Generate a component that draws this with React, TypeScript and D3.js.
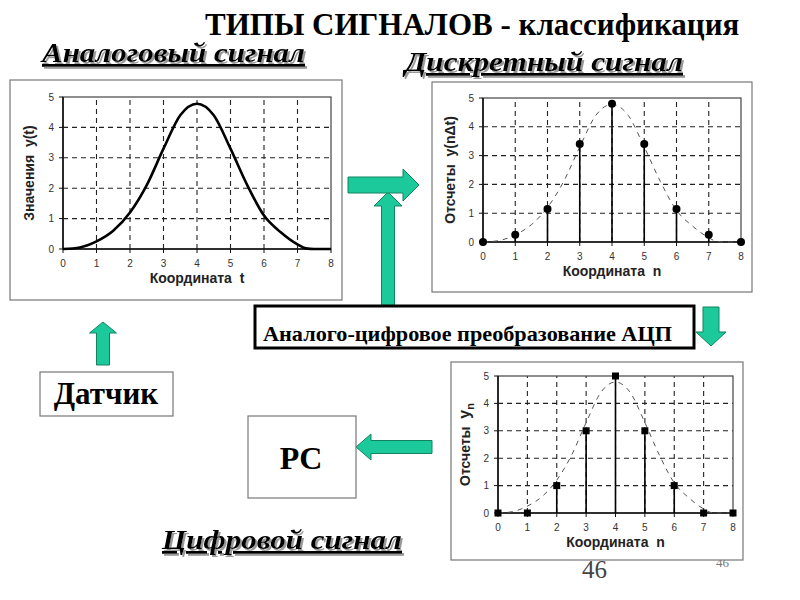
import * as d3 from 'd3';

// axis ticks shared by all three plots
const ticksX = [0, 1, 2, 3, 4, 5, 6, 7, 8];
const ticksY = [0, 1, 2, 3, 4, 5];

// continuous (analog) signal y(t)
const analogT = [0, 0.5, 1, 1.5, 2, 2.5, 3, 3.5, 4, 4.5, 5, 5.5, 6, 6.5, 7, 7.25, 7.5, 8];
const analogY = [0, 0.05, 0.25, 0.6, 1.2, 2.1, 3.3, 4.4, 4.78, 4.4, 3.3, 2.1, 1.1, 0.55, 0.15, 0.02, 0, 0];

// samples
const sampleN = [0, 1, 2, 3, 4, 5, 6, 7, 8];
const discreteY = [0, 0.25, 1.15, 3.4, 4.8, 3.4, 1.15, 0.25, 0];
const digitalY = [0, 0, 1, 3, 5, 3, 1, 0, 0];

const analogPts: [number, number][] = analogT.map((t, i) => [t, analogY[i]]);

const SERIF = '"Liberation Serif", "Times New Roman", serif';
const SANS = '"Liberation Sans", Arial, sans-serif';
const GREEN = '#1cc99b';
const GREEN_DARK = '#13835f';

type Box = { x0: number; x1: number; y0: number; y1: number };
type Scale = d3.ScaleLinear<number, number>;

function Panel({
  frame,
  plot,
  xTitle,
  yTitle,
  yTitleX,
  children,
}: {
  frame: Box;
  plot: Box;
  xTitle: React.ReactNode;
  yTitle: React.ReactNode;
  yTitleX: number;
  children: (x: Scale, y: Scale) => React.ReactNode;
}) {
  const x = d3.scaleLinear().domain([0, 8]).range([plot.x0, plot.x1]);
  const y = d3.scaleLinear().domain([0, 5]).range([plot.y1, plot.y0]);
  const yMid = (plot.y0 + plot.y1) / 2;
  return (
    <g>
      <rect
        x={frame.x0}
        y={frame.y0}
        width={frame.x1 - frame.x0}
        height={frame.y1 - frame.y0}
        fill="#fff"
        stroke="#777"
        strokeWidth={1.2}
      />
      {/* grid */}
      {ticksX.slice(1, -1).map((t) => (
        <line key={'gx' + t} x1={x(t)} x2={x(t)} y1={y(0)} y2={y(5)} stroke="#222" strokeWidth={1.1} strokeDasharray="5,4" />
      ))}
      {ticksY.slice(1, -1).map((t) => (
        <line key={'gy' + t} x1={x(0)} x2={x(8)} y1={y(t)} y2={y(t)} stroke="#222" strokeWidth={1.1} strokeDasharray="5,4" />
      ))}
      <rect x={plot.x0} y={plot.y0} width={plot.x1 - plot.x0} height={plot.y1 - plot.y0} fill="none" stroke="#444" strokeWidth={1.2} />
      <line x1={plot.x0} x2={plot.x1} y1={plot.y1} y2={plot.y1} stroke="#111" strokeWidth={1.6} />
      <line x1={plot.x0} x2={plot.x0} y1={plot.y0} y2={plot.y1} stroke="#111" strokeWidth={1.6} />
      {/* ticks */}
      {ticksY.map((t) => (
        <g key={'ty' + t}>
          <line x1={x(0) - 4} x2={x(0)} y1={y(t)} y2={y(t)} stroke="#111" />
          <text x={x(0) - 9} y={y(t) + 3.5} fontSize={10} fontFamily={SANS} fill="#333" textAnchor="end">
            {t}
          </text>
        </g>
      ))}
      {ticksX.map((t) => (
        <g key={'tx' + t}>
          <line x1={x(t)} x2={x(t)} y1={y(0)} y2={y(0) + 4} stroke="#111" />
          <text x={x(t)} y={y(0) + 18} fontSize={10} fontFamily={SANS} fill="#333" textAnchor="middle">
            {t}
          </text>
        </g>
      ))}
      <text
        x={(plot.x0 + plot.x1) / 2}
        y={y(0) + 34}
        fontSize={14}
        fontWeight="bold"
        fontFamily={SANS}
        fill="#222"
        textAnchor="middle"
        style={{ whiteSpace: 'pre' }}
      >
        {xTitle}
      </text>
      <text
        transform={`translate(${yTitleX},${yMid}) rotate(-90)`}
        fontSize={14}
        fontWeight="bold"
        fontFamily={SANS}
        fill="#222"
        textAnchor="middle"
        style={{ whiteSpace: 'pre' }}
      >
        {yTitle}
      </text>
      {children(x, y)}
    </g>
  );
}

function Heading({ x, y, width, text }: { x: number; y: number; width: number; text: string }) {
  return (
    <text
      x={x}
      y={y}
      fill="#000"
      fontSize={28}
      fontFamily={SERIF}
      fontWeight="bold"
      fontStyle="italic"
      textDecoration="underline"
      textLength={width}
      lengthAdjust="spacingAndGlyphs"
      filter="url(#shadow)"
    >
      {text}
    </text>
  );
}

// block arrow described by shaft half-width, head half-width, head length
function Arrow({ from, to, shaft, head, headLen }: { from: [number, number]; to: [number, number]; shaft: number; head: number; headLen: number }) {
  const dx = to[0] - from[0];
  const dy = to[1] - from[1];
  const len = Math.hypot(dx, dy);
  const ang = (Math.atan2(dy, dx) * 180) / Math.PI;
  const b = len - headLen;
  const d = `M0,${-shaft} L${b},${-shaft} L${b},${-head} L${len},0 L${b},${head} L${b},${shaft} L0,${shaft} Z`;
  return (
    <path
      d={d}
      transform={`translate(${from[0]},${from[1]}) rotate(${ang})`}
      fill={GREEN}
      stroke={GREEN_DARK}
      strokeWidth={1}
      strokeLinejoin="miter"
    />
  );
}

export default function App() {
  const curveFor = (x: Scale, y: Scale) =>
    d3
      .line<[number, number]>()
      .x((d) => x(d[0]))
      .y((d) => y(d[1]))
      .curve(d3.curveMonotoneX)(analogPts) ?? '';

  return (
    <svg width={800} height={600} style={{ position: 'absolute', left: 0, top: 0, background: '#fff' }}>
      <defs>
        <filter id="shadow" x="-5%" y="-20%" width="115%" height="150%">
          <feDropShadow dx={2} dy={2} stdDeviation={0.4} floodColor="#999" floodOpacity={1} />
        </filter>
      </defs>
      <rect width={800} height={600} fill="#fff" />

      <text x={205} y={35} fontSize={31} fontWeight="bold" fontFamily={SERIF} fill="#000">
        ТИПЫ СИГНАЛОВ - классификация
      </text>

      <Heading x={42} y={62} width={263} text="Аналоговый сигнал" />
      <Heading x={405} y={71} width={278} text="Дискретный сигнал" />
      <Heading x={162} y={549} width={240} text="Цифровой сигнал" />

      {/* page number bits */}
      <text x={582} y={578} fontSize={25} fontFamily={SERIF} fill="#444">
        46
      </text>
      <text x={716} y={567} fontSize={13} fontFamily={SERIF} fill="#777">
        46
      </text>

      {/* analog */}
      <Panel
        frame={{ x0: 10, x1: 342, y0: 80, y1: 300 }}
        plot={{ x0: 63, x1: 331, y0: 97, y1: 249 }}
        xTitle="Координата  t"
        yTitle="Значения  y(t)"
        yTitleX={34}
      >
        {(x, y) => <path d={curveFor(x, y)} fill="none" stroke="#000" strokeWidth={2.6} />}
      </Panel>

      {/* discrete */}
      <Panel
        frame={{ x0: 432, x1: 752, y0: 82, y1: 292 }}
        plot={{ x0: 483, x1: 741, y0: 98, y1: 242 }}
        xTitle="Координата  n"
        yTitle="Отсчеты  y(nΔt)"
        yTitleX={455}
      >
        {(x, y) => (
          <g>
            <path d={curveFor(x, y)} fill="none" stroke="#555" strokeWidth={1} strokeDasharray="5,5" />
            {sampleN.map((n, i) => (
              <g key={n}>
                <line x1={x(n)} x2={x(n)} y1={y(0)} y2={y(discreteY[i])} stroke="#000" strokeWidth={1.6} />
                <circle cx={x(n)} cy={y(discreteY[i])} r={4} fill="#000" />
              </g>
            ))}
          </g>
        )}
      </Panel>

      {/* digital */}
      <Panel
        frame={{ x0: 451, x1: 743, y0: 362, y1: 560 }}
        plot={{ x0: 498, x1: 733, y0: 376, y1: 513 }}
        xTitle="Координата  n"
        yTitle={
          <>
            Отсчеты  <tspan fontSize={16}>y</tspan>
            <tspan fontSize={11} dy={4}>n</tspan>
          </>
        }
        yTitleX={470}
      >
        {(x, y) => (
          <g>
            <path d={curveFor(x, y)} fill="none" stroke="#555" strokeWidth={1} strokeDasharray="5,5" />
            {sampleN.map((n, i) => (
              <g key={n}>
                <line x1={x(n)} x2={x(n)} y1={y(0)} y2={y(digitalY[i])} stroke="#000" strokeWidth={1.6} />
                <rect x={x(n) - 3.5} y={y(digitalY[i]) - 3.5} width={7} height={7} fill="#000" />
              </g>
            ))}
          </g>
        )}
      </Panel>

      {/* arrows */}
      <Arrow from={[388, 306]} to={[388, 192]} shaft={6.5} head={14} headLen={14} />
      <Arrow from={[348, 185]} to={[419, 185]} shaft={8} head={16} headLen={16} />
      <Arrow from={[711, 307]} to={[711, 346]} shaft={8} head={15} headLen={14} />
      <Arrow from={[103, 365]} to={[103, 322]} shaft={6.5} head={13.5} headLen={11} />
      <Arrow from={[432, 447]} to={[356, 447]} shaft={6.5} head={13} headLen={15} />

      {/* ADC box */}
      <rect x={255} y={306} width={439} height={42} fill="#fff" stroke="#000" strokeWidth={3} />
      <text x={263} y={341} fontSize={21} fontWeight="bold" fontFamily={SERIF} fill="#000" textLength={409} lengthAdjust="spacingAndGlyphs">
        Аналого-цифровое преобразование АЦП
      </text>

      {/* sensor */}
      <rect x={40} y={372} width={133} height={44} fill="#fff" stroke="#777" strokeWidth={1.2} />
      <text x={106} y={404} fontSize={31} fontWeight="bold" fontFamily={SERIF} fill="#000" textAnchor="middle">
        Датчик
      </text>

      {/* PC */}
      <rect x={248} y={416} width={108} height={82} fill="#fff" stroke="#777" strokeWidth={1.2} />
      <text x={301} y={469} fontSize={32} fontWeight="bold" fontFamily={SERIF} fill="#000" textAnchor="middle">
        PC
      </text>
    </svg>
  );
}
